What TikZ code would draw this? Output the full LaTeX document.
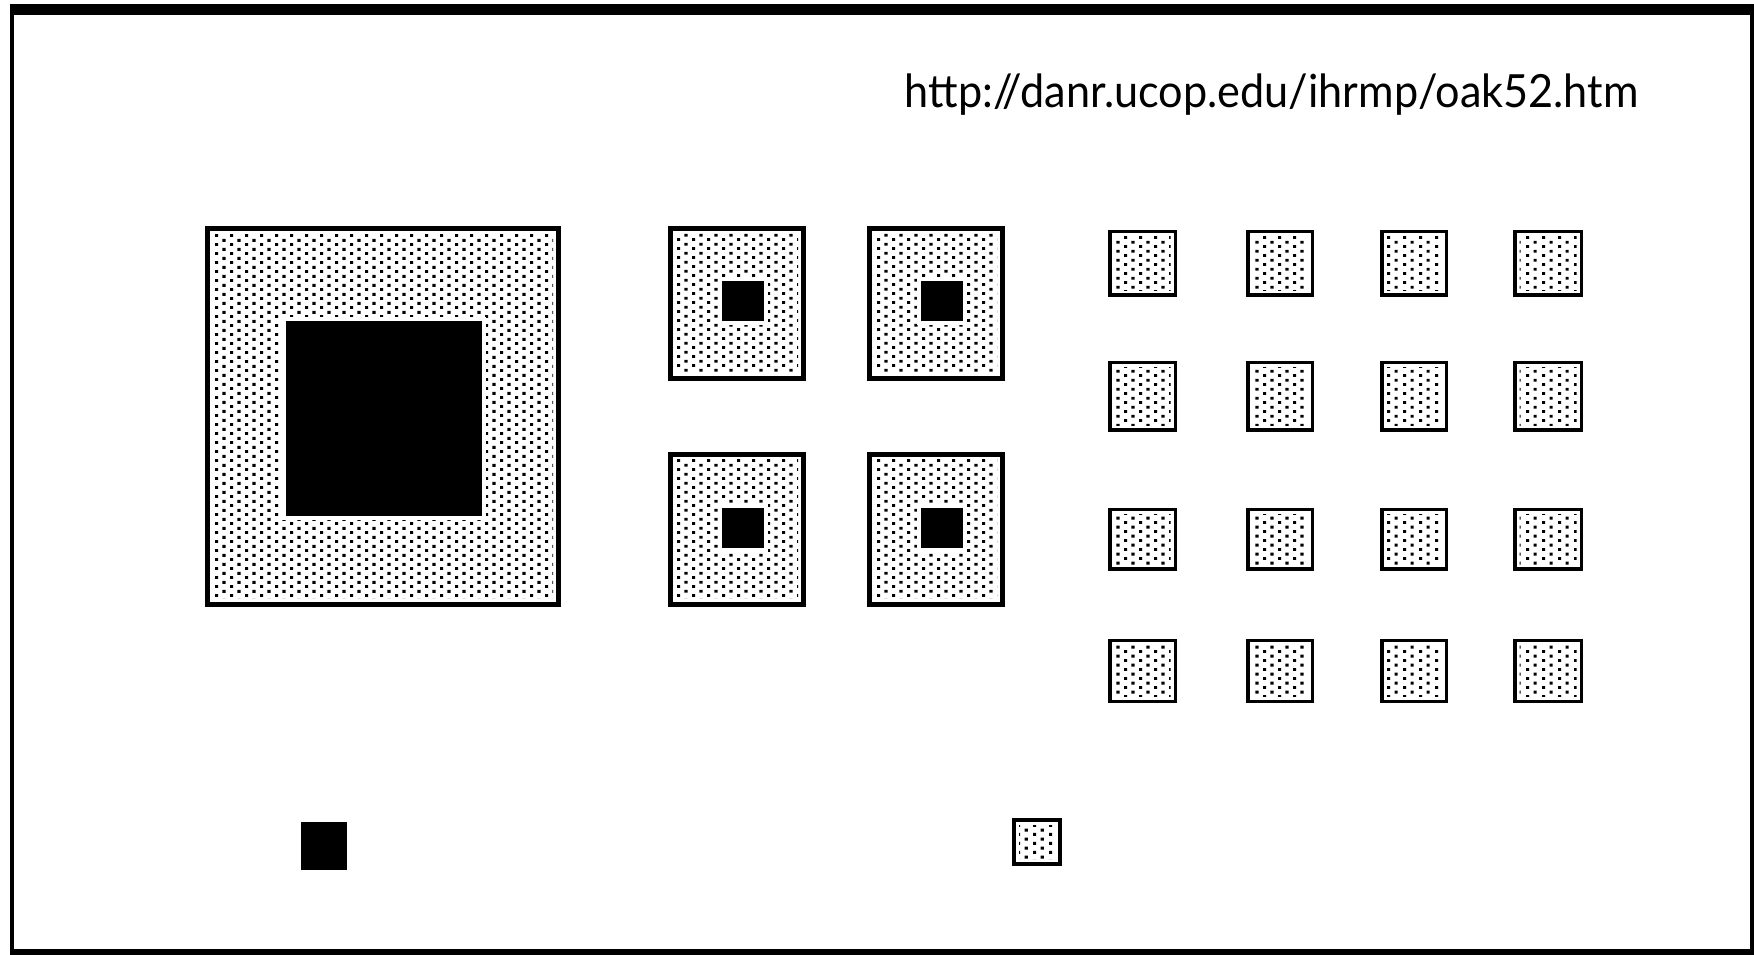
\documentclass[tikz,border=0pt]{standalone}
\usepackage{fontspec}
\setsansfont{Lato}
\usetikzlibrary{patterns.meta}

% stippled tree cover
\tikzdeclarepattern{
  name=oakdots,
  type=uncolored,
  bottom left={(0cm,0cm)},
  top right={(0.154cm,0.092cm)},
  tile size={(0.154cm,0.092cm)},
  code={
    \fill (0cm,0cm) rectangle (0.033cm,0.032cm);
    \fill (0.077cm,0.046cm) rectangle (0.110cm,0.078cm);
  }
}

\tikzset{
  woodland/.style={pattern=oakdots},
  border/.style={draw=black, line width=#1},
  clearing/.style={fill=black, preaction={draw=white, line width=0.08cm}}
}

% one stand: x1 y1 x2 y2 line width (px)
\newcommand{\oakstand}[5]{%
  \fill[woodland] (#1+#5+3,#2+#5+3) rectangle (#3-#5-3,#4-#5-3);
  \draw[border=#5*0.01cm] (#1+#5/2,#2+#5/2) rectangle (#3-#5/2,#4-#5/2);
}

\begin{document}
\begin{tikzpicture}[x=0.01cm, y=-0.01cm]
\useasboundingbox (0,0) rectangle (1754,955);
% frame
\fill (10,4) rectangle (1754,15);
\fill (10,4) rectangle (14,955);
\fill (10,949) rectangle (1754,955);
\fill (1750,4) rectangle (1754,955);

\node[anchor=base west, inner sep=0, font=\sffamily\fontsize{13pt}{16pt}\selectfont] (url) at (904,108) {\scalebox{0.945}[1]{http://danr.ucop.edu/ihrmp/oak52.htm}};

% one large stand
\oakstand{205}{226}{561}{607}{5}
\path[clearing] (286,321) rectangle (482,516);

% four medium stands
\foreach \xa/\xb/\ca/\cb in {668/806/722/764, 867/1005/921/963} {
  \foreach \ya/\yb/\ra/\rb in {226/381/281/321, 452/607/508/548} {
    \oakstand{\xa}{\ya}{\xb}{\yb}{5}
    \path[clearing] (\ca,\ra) rectangle (\cb,\rb);
  }
}

% sixteen small stands
\foreach \xa/\xb in {1108/1177, 1246/1314, 1380/1448, 1513/1583} {
  \foreach \ya/\yb in {230/297, 361/432, 508/571, 639/703} {
    \oakstand{\xa}{\ya}{\xb}{\yb}{3.5}
  }
}

% bottom row
\fill (301,822) rectangle (347,870);
\oakstand{1012}{818}{1062}{866}{4}
\end{tikzpicture}
\end{document}
